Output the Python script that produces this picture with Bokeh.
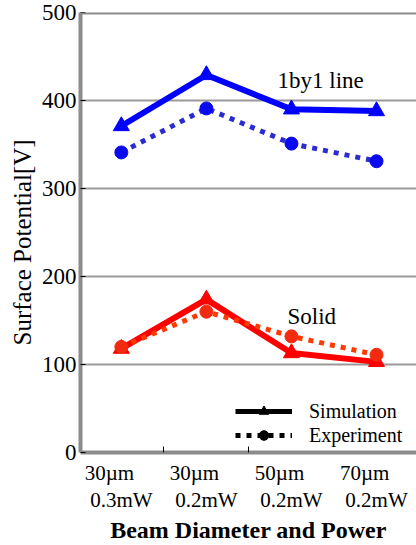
from bokeh.plotting import figure
from bokeh.models import (Range1d, FixedTicker, Label, LinearAxis, Title,
                          Legend, LegendItem, Span)
from bokeh.embed import file_html
from bokeh.resources import INLINE

# ---- data ----
x_pos = [1, 2, 3, 4]
cat_line1 = ["30µm", "30µm", "50µm", "70µm"]
cat_line2 = ["0.3mW", "0.2mW", "0.2mW", "0.2mW"]
sim_1by1 = [371, 429, 390, 388]
exp_1by1 = [341, 391, 351, 331]
sim_solid = [118, 174, 113, 103]
exp_solid = [120, 160, 132, 111]
y_ticks = [0, 100, 200, 300, 400, 500]
y_tick_labels = ["0", "100", "200", "300", "400", "500"]
grid_ticks = [100, 200, 300, 400]
boundary_ticks = [1.5, 2.5]

FONT = "Liberation Serif"
GRAY = "#8c8c8c"
X0, X1 = 0.52, 4.47
SHIFT = 0.14   # first label row sits a little left of its category

p = figure(width=416, height=545, output_backend="svg", toolbar_location=None,
           x_range=Range1d(X0, X1), y_range=Range1d(0, 500),
           x_axis_location=None, y_axis_location=None,
           min_border_left=80, min_border_right=0, min_border_top=12,
           min_border_bottom=91)
p.outline_line_color = None
p.extra_x_ranges = {"l1": Range1d(X0 + SHIFT, X1 + SHIFT)}
# range that keeps the black legend samples out of view
p.extra_y_ranges = {"hidden": Range1d(1000, 2000)}

# y axis
yax = LinearAxis(ticker=FixedTicker(ticks=y_ticks),
                 major_label_overrides=dict(zip(y_ticks, y_tick_labels)),
                 axis_line_color=GRAY, axis_line_width=4,
                 major_tick_in=5, major_tick_out=0, major_tick_line_color="black",
                 minor_tick_line_color=None, major_label_standoff=4,
                 major_label_text_font=FONT, major_label_text_font_size="23px",
                 major_label_text_color="black")
p.add_layout(yax, "left")
p.add_layout(Title(text="Surface Potential[V]", align="left", offset=107,
                   standoff=6, text_font=FONT, text_font_size="25px",
                   text_font_style="normal", text_color="black"), "left")

# x axes: first row of category labels (with the axis line and boundary ticks),
# second row, then the axis title
ax1 = LinearAxis(x_range_name="l1",
                 ticker=FixedTicker(ticks=x_pos,
                                    minor_ticks=[b + SHIFT for b in boundary_ticks]),
                 major_label_overrides=dict(zip(x_pos, cat_line1)),
                 axis_line_color=GRAY, axis_line_width=4,
                 major_tick_line_color=None, minor_tick_in=6, minor_tick_out=0,
                 minor_tick_line_color="black", major_label_standoff=2,
                 major_label_text_font=FONT, major_label_text_font_size="21px",
                 major_label_text_color="black")
p.add_layout(ax1, "below")
ax2 = LinearAxis(ticker=FixedTicker(ticks=x_pos),
                 major_label_overrides=dict(zip(x_pos, cat_line2)),
                 axis_line_color=None, major_tick_line_color=None,
                 minor_tick_line_color=None, major_label_standoff=-6,
                 major_label_text_font=FONT, major_label_text_font_size="21px",
                 major_label_text_color="black",
                 axis_label="Beam Diameter and Power", axis_label_standoff=2,
                 axis_label_text_font=FONT, axis_label_text_font_size="24px",
                 axis_label_text_font_style="bold", axis_label_text_color="black")
p.add_layout(ax2, "below")

p.ygrid.ticker = FixedTicker(ticks=grid_ticks)
p.ygrid.grid_line_color = "#999999"
p.ygrid.grid_line_width = 2
p.xgrid.visible = False

p.add_layout(Span(location=p.y_range.end, dimension="width",
                  line_color=GRAY, line_width=4))

# series
p.line(x_pos, exp_1by1, line_color="#2b2bd0", line_width=5, line_dash="5 6")
p.scatter(x_pos, exp_1by1, marker="circle", size=13, fill_color="#0a0af0",
          line_color="#0a0af0")
p.line(x_pos, sim_1by1, line_color="#0000ff", line_width=6)
p.scatter(x_pos, sim_1by1, marker="triangle", size=16, fill_color="#0000ff",
          line_color="#0000ff")

p.line(x_pos, sim_solid, line_color="#ff0000", line_width=6)
p.scatter(x_pos, sim_solid, marker="triangle", size=16, fill_color="#ff0000",
          line_color="#ff0000")
p.line(x_pos, exp_solid, line_color="#ff3a00", line_width=5, line_dash="5 6")
p.scatter(x_pos, exp_solid, marker="circle", size=13, fill_color="#f42a10",
          line_color="#f42a10")

# legend samples (black, drawn outside the visible range)
l_sim = p.line(x_pos, sim_1by1, y_range_name="hidden", line_color="black", line_width=5)
m_sim = p.scatter(x_pos, sim_1by1, y_range_name="hidden", marker="triangle",
                  fill_color="black", line_color="black")
l_exp = p.line(x_pos, exp_1by1, y_range_name="hidden", line_color="black",
               line_width=5, line_dash="5 6")
m_exp = p.scatter(x_pos, exp_1by1, y_range_name="hidden", marker="circle",
                  fill_color="black", line_color="black")
legend = Legend(items=[LegendItem(label="Simulation", renderers=[l_sim, m_sim]),
                       LegendItem(label="Experiment", renderers=[l_exp, m_exp])],
                location=(155, 5), glyph_width=57, glyph_height=24, label_height=24,
                spacing=0, padding=0, margin=0, label_standoff=17,
                border_line_color=None, background_fill_alpha=0,
                label_text_font=FONT, label_text_font_size="20px",
                label_text_color="black")
p.add_layout(legend)

# series annotations
p.add_layout(Label(x=197, y=372, x_units="screen", y_units="screen",
                   text="1by1 line", text_align="left", text_baseline="middle",
                   text_font=FONT, text_font_size="23px", text_color="black"))
p.add_layout(Label(x=207, y=136, x_units="screen", y_units="screen",
                   text="Solid", text_align="left", text_baseline="middle",
                   text_font=FONT, text_font_size="23px", text_color="black"))

open("out.html", "w").write(file_html(p, INLINE))
